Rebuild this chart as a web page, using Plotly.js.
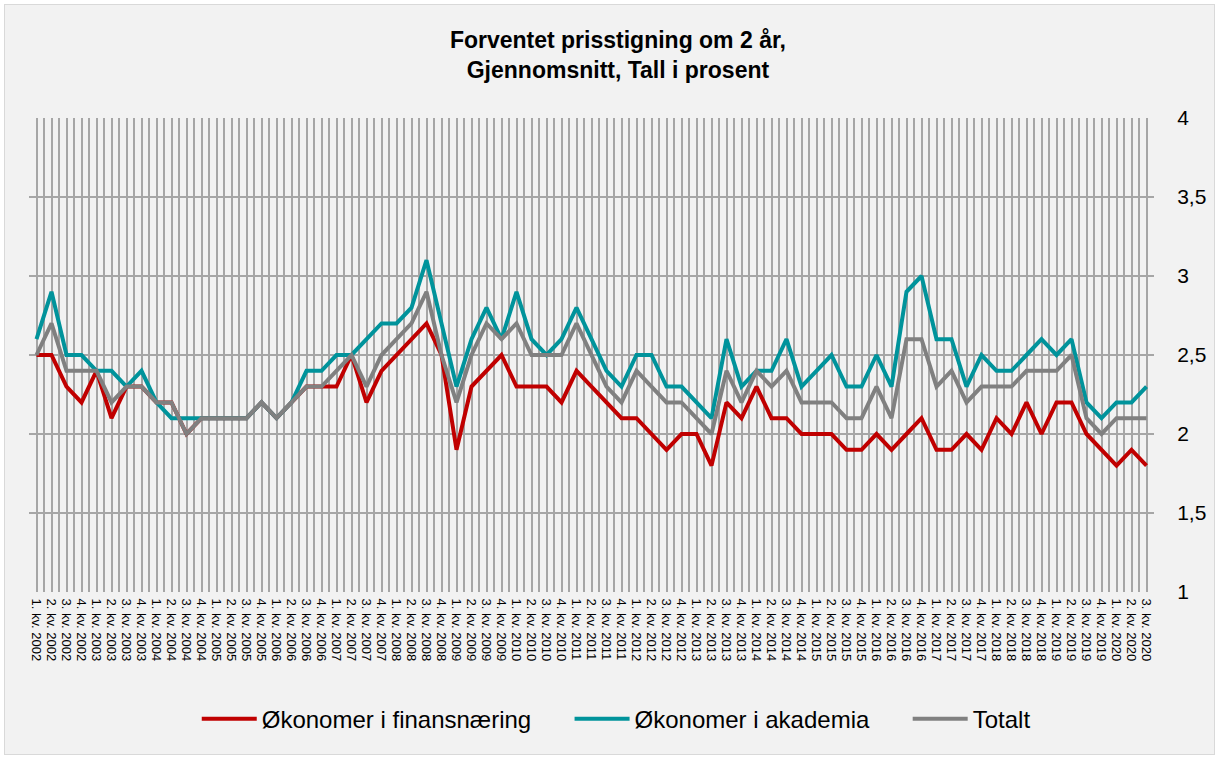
<!DOCTYPE html>
<html>
<head>
<meta charset="utf-8">
<script src="https://cdn.plot.ly/plotly-3.0.1.min.js"></script>
<style>
  html, body { margin: 0; padding: 0; background: #ffffff; }
  #chart { position: absolute; left: 4px; top: 4px; width: 1209px; height: 749px; border: 1px solid #d9d9d9; }
</style>
</head>
<body>
<div id="chart"></div>
<script>
const quarterLabels = [
  "1. kv. 2002","2. kv. 2002","3. kv. 2002","4. kv. 2002",
  "1. kv. 2003","2. kv. 2003","3. kv. 2003","4. kv. 2003",
  "1. kv. 2004","2. kv. 2004","3. kv. 2004","4. kv. 2004",
  "1. kv. 2005","2. kv. 2005","3. kv. 2005","4. kv. 2005",
  "1. kv. 2006","2. kv. 2006","3. kv. 2006","4. kv. 2006",
  "1. kv. 2007","2. kv. 2007","3. kv. 2007","4. kv. 2007",
  "1. kv. 2008","2. kv. 2008","3. kv. 2008","4. kv. 2008",
  "1. kv. 2009","2. kv. 2009","3. kv. 2009","4. kv. 2009",
  "1. kv. 2010","2. kv. 2010","3. kv. 2010","4. kv. 2010",
  "1. kv. 2011","2. kv. 2011","3. kv. 2011","4. kv. 2011",
  "1. kv. 2012","2. kv. 2012","3. kv. 2012","4. kv. 2012",
  "1. kv. 2013","2. kv. 2013","3. kv. 2013","4. kv. 2013",
  "1. kv. 2014","2. kv. 2014","3. kv. 2014","4. kv. 2014",
  "1. kv. 2015","2. kv. 2015","3. kv. 2015","4. kv. 2015",
  "1. kv. 2016","2. kv. 2016","3. kv. 2016","4. kv. 2016",
  "1. kv. 2017","2. kv. 2017","3. kv. 2017","4. kv. 2017",
  "1. kv. 2018","2. kv. 2018","3. kv. 2018","4. kv. 2018",
  "1. kv. 2019","2. kv. 2019","3. kv. 2019","4. kv. 2019",
  "1. kv. 2020","2. kv. 2020","3. kv. 2020"
];

const finans = [
  2.5,2.5,2.3,2.2, 2.4,2.1,2.3,2.3, 2.2,2.2,2.0,2.1, 2.1,2.1,2.1,2.2,
  2.1,2.2,2.3,2.3, 2.3,2.5,2.2,2.4, 2.5,2.6,2.7,2.5, 1.9,2.3,2.4,2.5,
  2.3,2.3,2.3,2.2, 2.4,2.3,2.2,2.1, 2.1,2.0,1.9,2.0, 2.0,1.8,2.2,2.1,
  2.3,2.1,2.1,2.0, 2.0,2.0,1.9,1.9, 2.0,1.9,2.0,2.1, 1.9,1.9,2.0,1.9,
  2.1,2.0,2.2,2.0, 2.2,2.2,2.0,1.9, 1.8,1.9,1.8
];

const akademia = [
  2.6,2.9,2.5,2.5, 2.4,2.4,2.3,2.4, 2.2,2.1,2.1,2.1, 2.1,2.1,2.1,2.2,
  2.1,2.2,2.4,2.4, 2.5,2.5,2.6,2.7, 2.7,2.8,3.1,2.7, 2.3,2.6,2.8,2.6,
  2.9,2.6,2.5,2.6, 2.8,2.6,2.4,2.3, 2.5,2.5,2.3,2.3, 2.2,2.1,2.6,2.3,
  2.4,2.4,2.6,2.3, 2.4,2.5,2.3,2.3, 2.5,2.3,2.9,3.0, 2.6,2.6,2.3,2.5,
  2.4,2.4,2.5,2.6, 2.5,2.6,2.2,2.1, 2.2,2.2,2.3
];

const totalt = [
  2.5,2.7,2.4,2.4, 2.4,2.2,2.3,2.3, 2.2,2.2,2.0,2.1, 2.1,2.1,2.1,2.2,
  2.1,2.2,2.3,2.3, 2.4,2.5,2.3,2.5, 2.6,2.7,2.9,2.5, 2.2,2.5,2.7,2.6,
  2.7,2.5,2.5,2.5, 2.7,2.5,2.3,2.2, 2.4,2.3,2.2,2.2, 2.1,2.0,2.4,2.2,
  2.4,2.3,2.4,2.2, 2.2,2.2,2.1,2.1, 2.3,2.1,2.6,2.6, 2.3,2.4,2.2,2.3,
  2.3,2.3,2.4,2.4, 2.4,2.5,2.1,2.0, 2.1,2.1,2.1
];

const seriesNames = ["Økonomer i finansnæring", "Økonomer i akademia", "Totalt"];
const seriesColors = ["#c00000", "#00939b", "#808080"];

const xIdx = quarterLabels.map((_, i) => i);
const gapPad = "\u00a0\u00a0\u00a0\u00a0\u00a0";

const traces = [finans, akademia, totalt].map((vals, k) => ({
  type: "scatter",
  mode: "lines",
  x: xIdx,
  y: vals,
  name: seriesNames[k] + (k < seriesNames.length - 1 ? gapPad : ""),
  line: { color: seriesColors[k], width: 4 },
  hoverinfo: "x+y"
}));

const layout = {
  width: 1209,
  height: 749,
  paper_bgcolor: "#f2f2f2",
  plot_bgcolor: "#f2f2f2",
  separators: ", ",
  font: { family: "Liberation Sans, Arial, sans-serif", color: "#000000" },
  margin: { l: 24, r: 60, t: 113, b: 155 },
  title: {
    text: "<b>Forventet prisstigning om 2 år,<br>Gjennomsnitt, Tall i prosent</b>",
    font: { size: 23, color: "#000000" },
    xref: "container", x: 0.507, xanchor: "center",
    yref: "container", y: 0.942, yanchor: "top"
  },
  xaxis: {
    range: [-0.5, quarterLabels.length - 0.5],
    tickmode: "array",
    tickvals: xIdx,
    ticktext: quarterLabels,
    tickangle: 90,
    tickfont: { size: 13, color: "#000000" },
    showgrid: true,
    gridcolor: "#a6a6a6",
    gridwidth: 2,
    minor: { tick0: -0.5, dtick: 1, showgrid: true, gridcolor: "#a6a6a6", gridwidth: 2 },
    zeroline: false,
    showline: false,
    ticks: "outside",
    ticklen: 3,
    tickcolor: "rgba(0,0,0,0)"
  },
  yaxis: {
    side: "right",
    range: [1, 4],
    dtick: 0.5,
    tick0: 1,
    showgrid: true,
    gridcolor: "#a6a6a6",
    gridwidth: 2,
    zeroline: false,
    showline: false,
    ticks: "outside",
    ticklen: 18,
    tickcolor: "rgba(0,0,0,0)",
    tickfont: { size: 21, color: "#000000" }
  },
  legend: {
    orientation: "h",
    x: 0.522, xanchor: "center",
    y: -0.268, yanchor: "middle",
    font: { size: 24, color: "#000000" },
    itemwidth: 55,
    bgcolor: "rgba(0,0,0,0)"
  },
  showlegend: true
};

Plotly.newPlot("chart", traces, layout, { displayModeBar: false, staticPlot: true });
</script>
</body>
</html>
